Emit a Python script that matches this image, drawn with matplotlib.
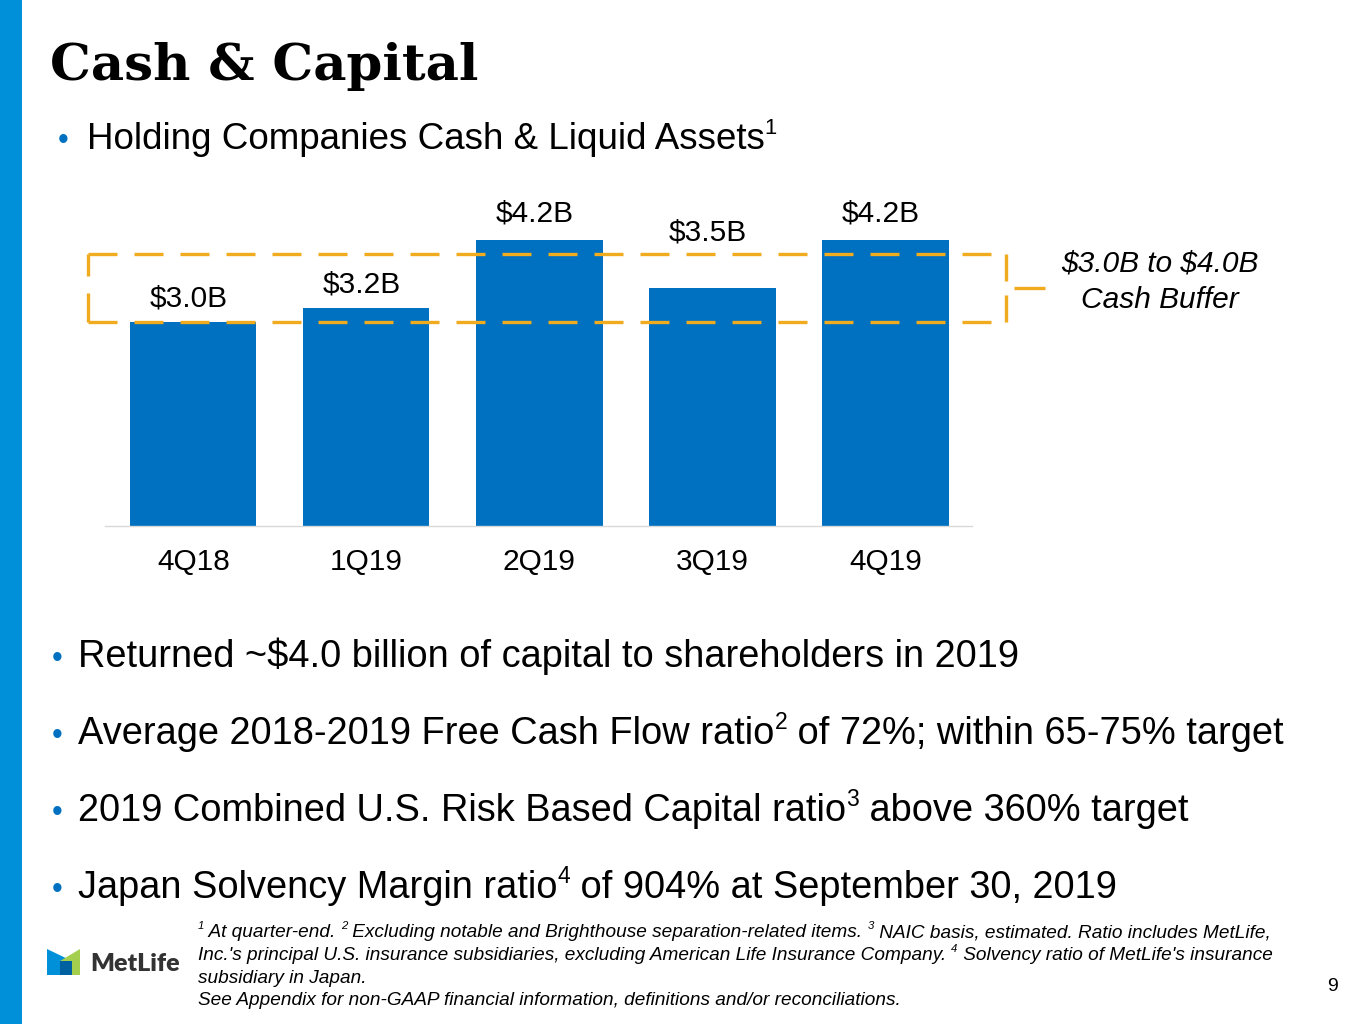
import matplotlib
matplotlib.use("Agg")
import matplotlib.pyplot as plt
from matplotlib.patches import Polygon, Rectangle

quarters = ["4Q18", "1Q19", "2Q19", "3Q19", "4Q19"]
cash = [3.0, 3.2, 4.2, 3.5, 4.2]
cash_labels = [r"\$3.0B", r"\$3.2B", r"\$4.2B", r"\$3.5B", r"\$4.2B"]
buffer_low, buffer_high = 3.0, 4.0
buffer_text = [r"\$3.0B to \$4.0B", "Cash Buffer"]

title = "Cash & Capital"
subtitle = [("Holding Companies Cash & Liquid Assets", False), ("1", True)]
bullets = [
    [(r"Returned ~\$4.0 billion of capital to shareholders in 2019", False)],
    [("Average 2018-2019 Free Cash Flow ratio", False), ("2", True),
     (" of 72%; within 65-75% target", False)],
    [("2019 Combined U.S. Risk Based Capital ratio", False), ("3", True),
     (" above 360% target", False)],
    [("Japan Solvency Margin ratio", False), ("4", True),
     (" of 904% at September 30, 2019", False)],
]
footnotes = [
    [("1", True), (" At quarter-end. ", False), ("2", True),
     (" Excluding notable and Brighthouse separation-related items. ", False),
     ("3", True), (" NAIC basis, estimated. Ratio includes MetLife,", False)],
    [("Inc.'s principal U.S. insurance subsidiaries, excluding American Life Insurance Company. ", False),
     ("4", True), (" Solvency ratio of MetLife's insurance", False)],
    [("subsidiary in Japan.", False)],
    [("See Appendix for non-GAAP financial information, definitions and/or reconciliations.", False)],
]

BLUE = "#0070C0"
STRIPE = "#0090DA"
GOLD = "#F0AB1E"
SANS = "Liberation Sans"

W, H = 1365, 1024
fig = plt.figure(figsize=(W / 100, H / 100), dpi=100)

# full-figure overlay in pixel coordinates
bg = fig.add_axes([0, 0, 1, 1])
bg.set_xlim(0, W)
bg.set_ylim(H, 0)
bg.axis("off")

bg.add_patch(Rectangle((0, 0), 22, H, color=STRIPE, lw=0))
bg.text(50, 80, title, fontsize=37, fontweight="bold", family="DejaVu Serif",
        va="baseline", ha="left", color="black")

fig.canvas.draw()
renderer = fig.canvas.get_renderer()


def rich(x, y, parts, size, style="normal", color="black"):
    # draw a line of text with superscripts, x/y in pixels (baseline)
    for txt, sup in parts:
        fs = size * 0.6 if sup else size
        yy = y - size * 0.55 if sup else y
        t = bg.text(x, yy, txt, fontsize=fs, family=SANS, style=style,
                    va="baseline", ha="left", color=color)
        bb = t.get_window_extent(renderer)
        x += bb.width


bg.text(58, 149, "•", fontsize=22, family=SANS, color=BLUE, va="baseline")
rich(87, 149, subtitle, 26.5)

bullet_y = [667, 744, 821, 898]
for by, parts in zip(bullet_y, bullets):
    bg.text(52, by, "•", fontsize=22, family=SANS, color=BLUE, va="baseline")
    rich(78, by, parts, 27.4)

foot_y = [937, 960, 983, 1005]
for fy, parts in zip(foot_y, footnotes):
    rich(198, fy, parts, 13.65, style="italic")

bg.text(1338, 991, "9", fontsize=14, family=SANS, ha="right", va="baseline")

# logo
bg.add_patch(Polygon([(47, 949), (72, 961), (72, 975), (47, 975)], color=STRIPE, lw=0))
bg.add_patch(Polygon([(80, 949), (80, 975), (60, 975), (60, 961)], color="#A4CE4E", lw=0))
bg.add_patch(Polygon([(60, 961), (72, 961), (72, 975), (60, 975)], color="#0061A0", lw=0))
bg.text(90, 971, "MetLife", fontsize=18, fontweight="heavy", family="Lato",
        color="#333333", va="baseline")

# chart
left, right, bottom, top = 105, 972, 526, 196
ax = fig.add_axes([left / W, 1 - bottom / H, (right - left) / W, (bottom - top) / H])
xs = range(len(quarters))
ax.bar(xs, cash, width=0.73, color=BLUE, zorder=2)
ax.set_xlim(-0.51, 4.50)
ax.set_ylim(0, (bottom - top) / 68)
for s in ["top", "right", "left"]:
    ax.spines[s].set_visible(False)
ax.spines["bottom"].set_color("#D9D9D9")
ax.spines["bottom"].set_linewidth(1)
ax.set_yticks([])
ax.set_xticks(list(xs))
ax.set_xticklabels(quarters, fontsize=21.5, family=SANS)
ax.tick_params(axis="x", length=0, pad=16)

offsets = [7, 7, 9, 30, 9]
for i, (v, lab) in enumerate(zip(cash, cash_labels)):
    ax.annotate(lab, (i - 0.025, v), xytext=(0, offsets[i]), textcoords="offset points",
                ha="center", va="bottom", fontsize=21.5, family=SANS, zorder=4)

# cash buffer bracket
x0, x1 = -0.607, 4.694
mid = (buffer_low + buffer_high) / 2
dash = dict(color=GOLD, lw=2.4, ls=(0, (8.7, 5.1)), clip_on=False, zorder=3)
ax.plot([x0, x1], [buffer_high, buffer_high], **dash)
ax.plot([x0, x1], [buffer_low, buffer_low], **dash)
ax.plot([x0, x0], [buffer_low, buffer_high], **dash)
solid = dict(color=GOLD, lw=2.4, clip_on=False, solid_capstyle="butt")
ax.plot([x1, x1], [buffer_high, mid + 0.1], **solid)
ax.plot([x1, x1], [buffer_low, mid - 0.1], **solid)
ax.plot([x1 + 0.05, x1 + 0.23], [mid, mid], **solid)

bg.text(1160, 264, buffer_text[0], fontsize=21.5, family=SANS, style="italic",
        ha="center", va="center")
bg.text(1160, 300, buffer_text[1], fontsize=21.5, family=SANS, style="italic",
        ha="center", va="center")

fig.savefig("out.png", dpi=100)
